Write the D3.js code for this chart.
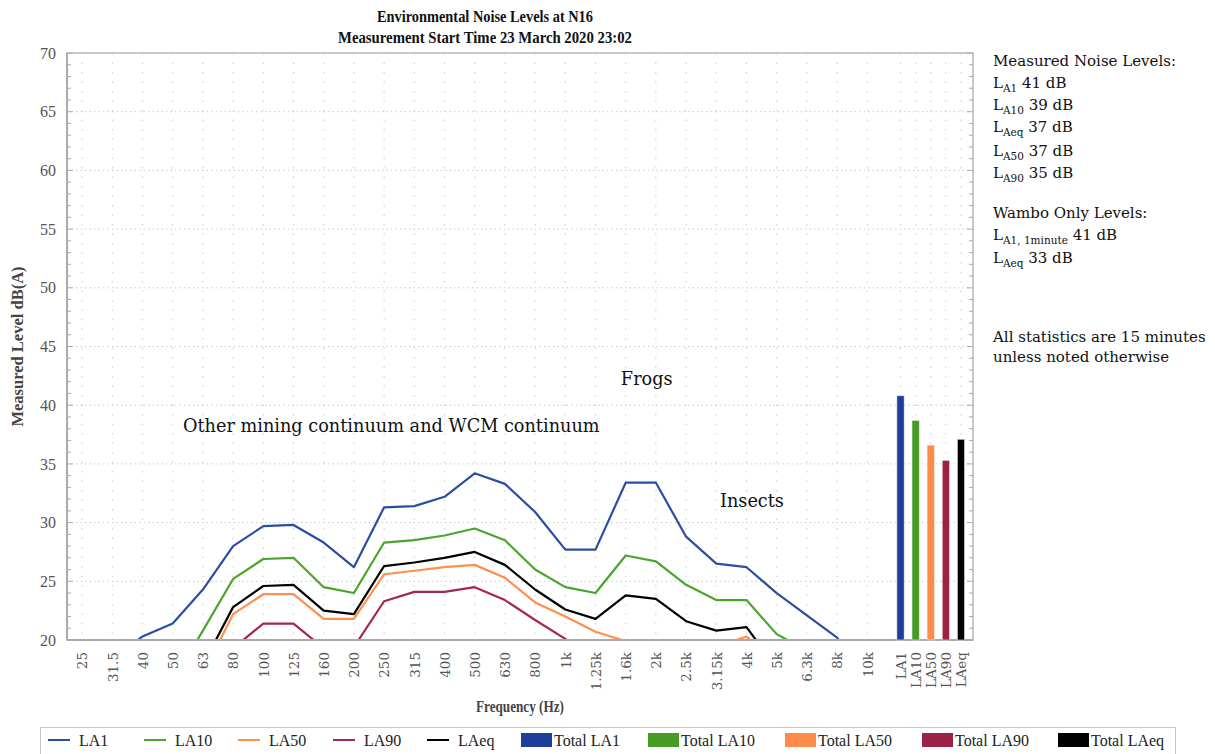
<!DOCTYPE html>
<html lang="en">
<head>
<meta charset="utf-8">
<title>Environmental Noise Levels at N16</title>
<script src="https://d3js.org/d3.v7.min.js"></script>
<style>
    body { margin: 0; background: #fff; }
    #chart { display: block; }
    .tick-y text { font-family: "Liberation Serif", serif; font-size: 16px; fill: #555; }
    .tick-x text { font-family: "DejaVu Serif", serif; font-size: 13.5px; fill: #555; }
    .note { font-family: "DejaVu Serif", serif; font-size: 15px; fill: #111; }
    .anno { font-family: "DejaVu Serif", serif; font-size: 17.7px; fill: #111; }
    .legend text { font-family: "Liberation Serif", serif; font-size: 16px; fill: #222; }
</style>
</head>
<body>
<svg id="chart"></svg>
<script>
// ---- data ----
var freqLabels = ["25", "31.5", "40", "50", "63", "80", "100", "125", "160", "200", "250", "315",
    "400", "500", "630", "800", "1k", "1.25k", "1.6k", "2k", "2.5k", "3.15k", "4k", "5k", "6.3k", "8k", "10k"];
var statLabels = ["LA1", "LA10", "LA50", "LA90", "LAeq"];

var la1  = [17.5, 18.3, 20.3, 21.4, 24.3, 28.0, 29.7, 29.8, 28.3, 26.2, 31.3, 31.4, 32.2, 34.2, 33.3, 30.9, 27.7, 27.7, 33.4, 33.4, 28.8, 26.5, 26.2, 24.0, 22.1, 20.2, 16.5];
var la10 = [15.0, 15.5, 16.0, 16.5, 20.8, 25.2, 26.9, 27.0, 24.5, 24.0, 28.3, 28.5, 28.9, 29.5, 28.5, 26.0, 24.5, 24.0, 27.2, 26.7, 24.7, 23.4, 23.4, 20.5, 19.1, 17.0, 15.5];
var la50 = [14.0, 14.5, 15.0, 15.5, 17.1, 22.2, 23.9, 23.9, 21.8, 21.8, 25.6, 25.9, 26.2, 26.4, 25.3, 23.2, 22.0, 20.7, 19.9, 19.5, 19.2, 19.4, 20.3, 18.0, 16.0, 15.0, 14.0];
var la90 = [13.0, 13.5, 14.0, 14.5, 15.5, 19.3, 21.4, 21.4, 19.3, 19.4, 23.3, 24.1, 24.1, 24.5, 23.4, 21.7, 20.1, 18.5, 17.5, 17.0, 16.5, 16.0, 16.0, 15.5, 15.0, 14.5, 14.0];
var laeq = [14.5, 15.0, 15.5, 16.0, 17.9, 22.8, 24.6, 24.7, 22.5, 22.2, 26.3, 26.6, 27.0, 27.5, 26.4, 24.3, 22.6, 21.8, 23.8, 23.5, 21.6, 20.8, 21.1, 17.6, 16.5, 15.5, 14.5];

var totals = [40.8, 38.7, 36.6, 35.3, 37.1];   // Total LA1, LA10, LA50, LA90, LAeq

var yTicks = [20, 25, 30, 35, 40, 45, 50, 55, 60, 65, 70];

var annotations = [
    { text: "Other mining continuum and WCM continuum", slot: 3.84, db: 37.7 },
    { text: "Frogs", slot: 18.34, db: 41.7 },
    { text: "Insects", slot: 21.62, db: 31.3 }
];

// ---- layout ----
var width = 1215, height = 754;
var plotL = 67, plotR = 973, plotT = 53, plotB = 640;

var lineColors = ["#2b4ea2", "#4aa52e", "#ff8f4d", "#a3284d", "#000000"];
var barColors  = ["#1f3e9b", "#469b22", "#fd8c4a", "#9b2145", "#000000"];
var series = [la1, la10, la50, la90, laeq];

var svg = d3.select("#chart")
    .attr("width", width)
    .attr("height", height);

// x in "slots": one slot per frequency band, half a slot per total bar
var xs = d3.scaleLinear().domain([0, 30]).range([plotL, plotR]);
var slotOf = function(i) { return i + 0.5; };
var barSlot = function(j) { return 27.6 + j * 0.5; };

var allLabels = freqLabels.concat(statLabels);
var x = d3.scaleOrdinal()
    .domain(allLabels)
    .range(allLabels.map(function(d, i) {
        return i < freqLabels.length ? xs(slotOf(i)) : xs(barSlot(i - freqLabels.length));
    }));

var y = d3.scaleLinear().domain([20, 70]).range([plotB, plotT]);

// grid
var grid = svg.append("g");
grid.selectAll("line.h")
    .data(yTicks.slice(1, -1))
    .enter().append("line")
    .attr("x1", plotL).attr("x2", plotR)
    .attr("y1", function(d) { return y(d); })
    .attr("y2", function(d) { return y(d); })
    .attr("stroke", "#c9c9c9")
    .attr("stroke-dasharray", "1.5,3");
grid.selectAll("line.v")
    .data(allLabels)
    .enter().append("line")
    .attr("x1", function(d) { return x(d); })
    .attr("x2", function(d) { return x(d); })
    .attr("y1", plotT).attr("y2", plotB)
    .attr("stroke", "#c9c9c9")
    .attr("stroke-dasharray", "1.5,8");

// frame
svg.append("rect")
    .attr("x", plotL).attr("y", plotT)
    .attr("width", plotR - plotL).attr("height", plotB - plotT)
    .attr("fill", "none")
    .attr("stroke", "#b8b8b8")
    .attr("stroke-width", 1.5);

// minor ticks inside, both sides
var minor = d3.range(20, 71, 1);
svg.append("g").selectAll("line")
    .data(minor)
    .enter().append("line")
    .attr("x1", plotL).attr("x2", function(d) { return plotL + (d % 5 === 0 ? 6 : 4); })
    .attr("y1", function(d) { return y(d); }).attr("y2", function(d) { return y(d); })
    .attr("stroke", "#aaa");
svg.append("g").selectAll("line")
    .data(minor)
    .enter().append("line")
    .attr("x1", plotR).attr("x2", function(d) { return plotR - (d % 5 === 0 ? 6 : 4); })
    .attr("y1", function(d) { return y(d); }).attr("y2", function(d) { return y(d); })
    .attr("stroke", "#aaa");

// y axis labels
var yAxis = d3.axisLeft(y).tickValues(yTicks).tickSize(0).tickPadding(11);
svg.append("g")
    .attr("transform", "translate(" + plotL + ",0)")
    .call(yAxis)
    .call(function(g) { g.select(".domain").remove(); })
    .selectAll(".tick").attr("class", "tick tick-y");

// x axis labels, rotated
var xAxis = d3.axisBottom(x).tickSize(0);
var xg = svg.append("g")
    .attr("transform", "translate(0," + plotB + ")")
    .call(xAxis);
xg.select(".domain").attr("stroke", "#aaa").attr("stroke-width", 2)
    .attr("d", "M" + plotL + ",0H" + plotR);
xg.selectAll(".tick").attr("class", "tick tick-x");
xg.selectAll(".tick text")
    .attr("transform", "rotate(-90)")
    .attr("text-anchor", "end")
    .attr("x", -12)
    .attr("y", 0)
    .attr("dy", "0.35em");

// left axis line heavier
svg.append("line")
    .attr("x1", plotL).attr("x2", plotL)
    .attr("y1", plotT).attr("y2", plotB)
    .attr("stroke", "#aaa").attr("stroke-width", 2);

// clip for the lines
svg.append("clipPath").attr("id", "plotclip")
    .append("rect")
    .attr("x", plotL).attr("y", plotT)
    .attr("width", plotR - plotL).attr("height", plotB - plotT - 1);

var line = d3.line()
    .x(function(d, i) { return xs(slotOf(i)); })
    .y(function(d) { return y(d); });

svg.append("g")
    .attr("clip-path", "url(#plotclip)")
    .selectAll("path")
    .data(series)
    .enter().append("path")
    .attr("d", line)
    .attr("fill", "none")
    .attr("stroke", function(d, i) { return lineColors[i]; })
    .attr("stroke-width", 2.2)
    .attr("stroke-linejoin", "round");

// total bars
var barW = xs(0.24) - xs(0);
svg.append("g").selectAll("rect")
    .data(totals)
    .enter().append("rect")
    .attr("x", function(d, j) { return xs(barSlot(j)) - barW / 2; })
    .attr("y", function(d) { return y(d); })
    .attr("width", barW)
    .attr("height", function(d) { return y(20) - y(d); })
    .attr("fill", function(d, j) { return barColors[j]; })
    .attr("stroke", "#e8e8e8")
    .attr("stroke-width", 0.6);

// annotations
svg.append("g").selectAll("text")
    .data(annotations)
    .enter().append("text")
    .attr("class", "anno")
    .attr("x", function(d) { return xs(d.slot); })
    .attr("y", function(d) { return y(d.db); })
    .text(function(d) { return d.text; });

// titles
var title = svg.append("g")
    .attr("font-family", "Liberation Serif, serif")
    .attr("font-weight", "bold")
    .attr("font-size", 17.5)
    .attr("fill", "#111")
    .attr("text-anchor", "middle");
title.append("text").attr("x", 485).attr("y", 22)
    .attr("textLength", 216).attr("lengthAdjust", "spacingAndGlyphs")
    .text("Environmental Noise Levels at N16");
title.append("text").attr("x", 485).attr("y", 43)
    .attr("textLength", 294).attr("lengthAdjust", "spacingAndGlyphs")
    .text("Measurement Start Time 23 March 2020 23:02");

svg.append("text")
    .attr("transform", "translate(23," + ((plotT + plotB) / 2) + ") rotate(-90)")
    .attr("text-anchor", "middle")
    .attr("font-family", "Liberation Serif, serif")
    .attr("font-weight", "bold")
    .attr("font-size", 16.5)
    .attr("fill", "#444")
    .text("Measured Level dB(A)");

svg.append("text")
    .attr("x", (plotL + plotR) / 2).attr("y", 712)
    .attr("text-anchor", "middle")
    .attr("font-family", "Liberation Serif, serif")
    .attr("font-weight", "bold")
    .attr("font-size", 16.5)
    .attr("fill", "#444")
    .attr("textLength", 88).attr("lengthAdjust", "spacingAndGlyphs")
    .text("Frequency (Hz)");

// side notes
var notes = svg.append("g").attr("class", "note");
function plain(yy, txt) {
    notes.append("text").attr("class", "note").attr("x", 993).attr("y", yy).text(txt);
}
function level(yy, sub, val) {
    var t = notes.append("text").attr("class", "note").attr("x", 993).attr("y", yy);
    t.append("tspan").text("L");
    t.append("tspan").attr("font-size", 10.5).attr("dy", 4).text(sub);
    t.append("tspan").attr("dy", -4).text(" " + val);
}
plain(66, "Measured Noise Levels:");
level(88, "A1", "41 dB");
level(110, "A10", "39 dB");
level(132, "Aeq", "37 dB");
level(156, "A50", "37 dB");
level(178, "A90", "35 dB");
plain(218, "Wambo Only Levels:");
level(240, "A1, 1minute", "41 dB");
level(263, "Aeq", "33 dB");
plain(342, "All statistics are 15 minutes");
plain(362, "unless noted otherwise");

// legend
var legendItems = [
    { name: "LA1", type: "line", color: lineColors[0], x: 48 },
    { name: "LA10", type: "line", color: lineColors[1], x: 144 },
    { name: "LA50", type: "line", color: lineColors[2], x: 238 },
    { name: "LA90", type: "line", color: lineColors[3], x: 333 },
    { name: "LAeq", type: "line", color: lineColors[4], x: 427 },
    { name: "Total LA1", type: "bar", color: barColors[0], x: 521 },
    { name: "Total LA10", type: "bar", color: barColors[1], x: 648 },
    { name: "Total LA50", type: "bar", color: barColors[2], x: 785 },
    { name: "Total LA90", type: "bar", color: barColors[3], x: 922 },
    { name: "Total LAeq", type: "bar", color: barColors[4], x: 1058 }
];
var legend = svg.append("g").attr("class", "legend");
legend.append("rect")
    .attr("x", 40.5).attr("y", 727.5)
    .attr("width", 1135).attr("height", 40)
    .attr("fill", "#fff").attr("stroke", "#c8c8c8");
var li = legend.selectAll("g.item")
    .data(legendItems)
    .enter().append("g")
    .attr("transform", function(d) { return "translate(" + d.x + ",740)"; });
li.filter(function(d) { return d.type === "line"; })
    .append("line")
    .attr("x1", 0).attr("x2", 22).attr("y1", 0).attr("y2", 0)
    .attr("stroke", function(d) { return d.color; })
    .attr("stroke-width", 2);
li.filter(function(d) { return d.type === "bar"; })
    .append("rect")
    .attr("x", 0).attr("y", -7).attr("width", 31).attr("height", 14)
    .attr("fill", function(d) { return d.color; });
li.append("text")
    .attr("x", function(d) { return d.type === "line" ? 31 : 33; })
    .attr("y", 5.5)
    .text(function(d) { return d.name; });
</script>
</body>
</html>
